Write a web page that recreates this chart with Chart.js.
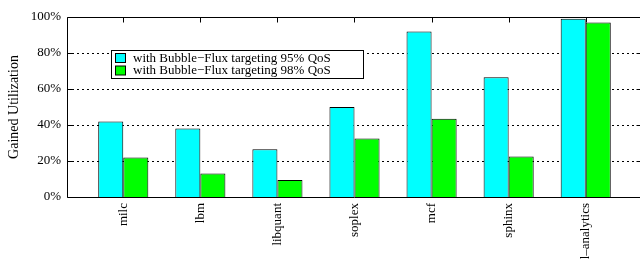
<!DOCTYPE html>
<html>
<head>
<meta charset="utf-8">
<script src="https://cdn.jsdelivr.net/npm/chart.js@4/dist/chart.umd.min.js"></script>
<style>
html,body{margin:0;padding:0;overflow:hidden;background:#fff;}
#wrap{width:645px;height:263px;position:relative;}
</style>
</head>
<body>
<div id="wrap"><canvas id="c"></canvas></div>
<script>
const categories = ['milc', 'lbm', 'libquant', 'soplex', 'mcf', 'sphinx', 'l\u2013analytics'];
const seriesNames = ['with Bubble\u2212Flux targeting 95% QoS', 'with Bubble\u2212Flux targeting 98% QoS'];
const qos95 = [42, 38, 26.5, 50, 92, 66.5, 99];
const qos98 = [22, 13, 9.5, 32.5, 43.5, 22.5, 97];
const yTicks = [0, 20, 40, 60, 80, 100];

const FONT = 'Liberation Serif, Times New Roman, serif';

const framePlugin = {
  id: 'frame',
  beforeDatasetsDraw(chart) {
    const {ctx, chartArea: a, scales: {y}} = chart;
    ctx.save();
    ctx.strokeStyle = '#000';
    ctx.lineWidth = 1;
    ctx.setLineDash([2, 3]);
    yTicks.forEach(v => {
      if (v === 0 || v === 100) return;
      const py = Math.round(y.getPixelForValue(v)) + 0.5;
      ctx.beginPath();
      ctx.moveTo(a.left, py);
      ctx.lineTo(a.right, py);
      ctx.stroke();
    });
    ctx.restore();
  },
  afterDatasetsDraw(chart) {
    const {ctx, chartArea: a, scales: {x, y}} = chart;
    ctx.save();
    ctx.strokeStyle = '#000';
    ctx.lineWidth = 1;
    const L = Math.round(a.left) + 0.5, R = Math.round(a.right) - 0.5;
    const T = Math.round(a.top) + 0.5, B = Math.round(a.bottom) + 0.5;
    ctx.beginPath();
    ctx.moveTo(L, T); ctx.lineTo(R, T); ctx.lineTo(R, B); ctx.lineTo(L, B); ctx.closePath();
    ctx.stroke();
    // y ticks inward on both sides
    yTicks.forEach(v => {
      const py = Math.round(y.getPixelForValue(v)) + 0.5;
      ctx.beginPath();
      ctx.moveTo(L, py); ctx.lineTo(L + 5, py);
      ctx.moveTo(R, py); ctx.lineTo(R - 5, py);
      ctx.stroke();
    });
    // x ticks at top
    categories.forEach((c, i) => {
      const px = Math.round(x.getPixelForValue(i)) + 0.5;
      ctx.beginPath();
      ctx.moveTo(px, T); ctx.lineTo(px, T + 5);
      ctx.stroke();
    });
    ctx.restore();
  },
  afterDraw(chart) {
    const {ctx} = chart;
    const bx = 111.5, by = 50.5, bw = 252, bh = 28;
    ctx.save();
    ctx.fillStyle = '#fff';
    ctx.fillRect(bx, by, bw, bh);
    ctx.strokeStyle = '#000';
    ctx.lineWidth = 1;
    ctx.strokeRect(bx, by, bw, bh);
    chart.data.datasets.forEach((ds, i) => {
      const sy = 53.5 + i * 12.5;
      ctx.fillStyle = ds.backgroundColor;
      ctx.fillRect(115.5, sy, 10, 9);
      ctx.strokeStyle = '#000';
      ctx.strokeRect(115.5, sy, 10, 9);
      ctx.fillStyle = '#000';
      ctx.font = '13px ' + FONT;
      ctx.textBaseline = 'middle';
      ctx.textAlign = 'left';
      ctx.fillText(ds.label, 133, sy + 5);
    });
    ctx.restore();
  }
};

new Chart(document.getElementById('c'), {
  type: 'bar',
  data: {
    datasets: [
      {label: seriesNames[0], data: qos95.map((v, i) => ({x: i, y: v})), backgroundColor: '#00ffff', borderColor: '#000', borderWidth: 1, barPercentage: 1, categoryPercentage: 0.65},
      {label: seriesNames[1], data: qos98.map((v, i) => ({x: i, y: v})), backgroundColor: '#00ff00', borderColor: '#000', borderWidth: 1, barPercentage: 1, categoryPercentage: 0.65}
    ]
  },
  options: {
    responsive: true,
    maintainAspectRatio: false,
    animation: false,
    layout: {padding: {top: 17, right: 3, left: 0, bottom: 0}},
    plugins: {legend: {display: false}, tooltip: {enabled: false}},
    scales: {
      x: {
        type: 'linear',
        offset: false,
        min: -0.73,
        max: 6.73,
        grid: {display: false, drawTicks: false},
        border: {display: false},
        afterBuildTicks: s => { s.ticks = categories.map((c, i) => ({value: i})); },
        afterFit: s => { s.height = 66; },
        ticks: {
          autoSkip: false,
          minRotation: 90,
          maxRotation: 90,
          padding: 6,
          color: '#000',
          font: {family: FONT, size: 13},
          callback: v => categories[v]
        }
      },
      y: {
        min: 0,
        max: 100,
        grid: {display: false, drawTicks: false},
        border: {display: false},
        afterBuildTicks: s => { s.ticks = yTicks.map(v => ({value: v})); },
        afterFit: s => { s.width = 67; },
        ticks: {
          padding: 6,
          color: '#000',
          font: {family: FONT, size: 13},
          callback: v => v + '%'
        },
        title: {
          display: true,
          text: 'Gained Utilization',
          color: '#000',
          font: {family: FONT, size: 14},
          padding: {top: 6, bottom: 0}
        }
      }
    }
  },
  plugins: [framePlugin]
});
</script>
</body>
</html>
